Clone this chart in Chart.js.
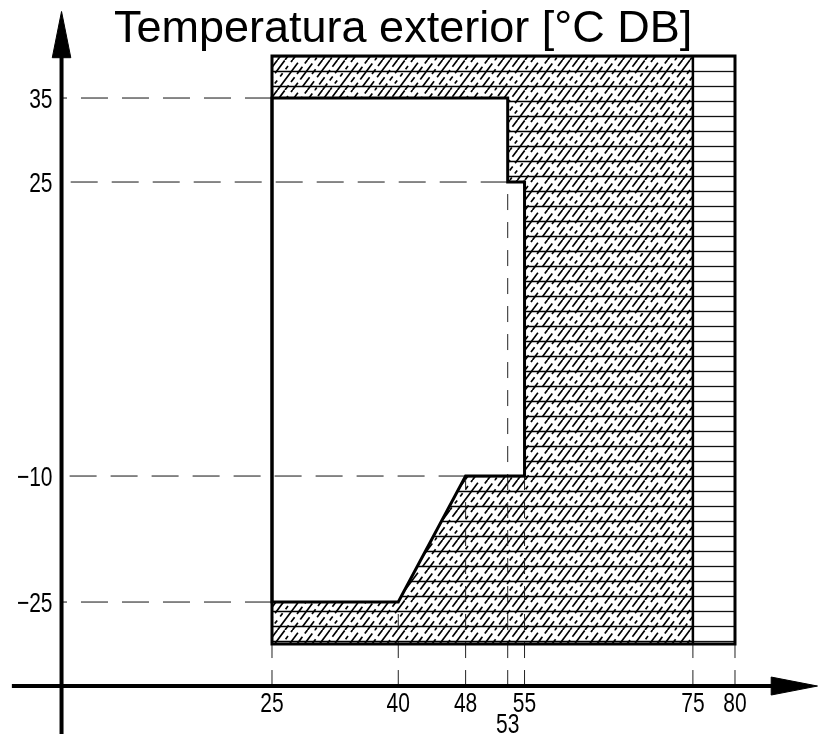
<!DOCTYPE html>
<html>
<head>
<meta charset="utf-8">
<script src="https://cdn.jsdelivr.net/npm/chart.js@4.4.0/dist/chart.umd.min.js"></script>
<style>
  html, body { margin: 0; padding: 0; background: #fff; overflow: hidden; }
  #wrap { width: 818px; height: 734px; position: relative; }
</style>
</head>
<body>
<div id="wrap"><canvas id="chart"></canvas></div>
<script>
// chart values
const titleText = 'Temperatura exterior [°C DB]';
const xTicks = [25, 40, 48, 53, 55, 75, 80];
const xTickRows = [0, 0, 0, 1, 0, 0, 0];
const xGuideFrom = [-30, -25, -10, 25, -10, -30, -30];
const yTicks = [35, 25, -10, -25];
const yGuideTo = [25, 53, 48, 25];
const rangeUpperX = [25, 53, 53, 55, 55];
const rangeUpperY = [35, 35, 25, 25, -10];
const rangeLowerX = [48, 40, 25, 25];
const rangeLowerY = [-10, -25, -25, 35];
const boxX = [25, 75, 80];
const boxY = [-30, 40];
const axisY = -35;

function pts(xs, ys) {
    return xs.map((x, i) => ({ x: x, y: ys[i] }));
}

// hatch patterns
function hatchPattern() {
    const W = 60, H = 30, DX = 22.5, STEP = 7.5;
    const c = document.createElement('canvas');
    c.width = W; c.height = H;
    const g = c.getContext('2d');
    g.fillStyle = '#fff';
    g.fillRect(0, 0, W, H);
    g.strokeStyle = '#000';
    g.lineWidth = 1.3;
    g.beginPath();
    [11.5, 26.5].forEach(y => { g.moveTo(0, y); g.lineTo(W, y); });
    g.stroke();
    const dashes = [[34, 4], [9, 4, 6, 4], [20, 4], [6, 4, 12, 4], [28, 5], [5, 4, 9, 4], [16, 4, 5, 4], [4, 5]];
    const offs = [0, 3, 11, 6, 17, 2, 8, 1];
    let i = 0;
    g.lineWidth = 1.7;
    for (let x0 = -DX; x0 < W; x0 += STEP) {
        g.setLineDash(dashes[i % dashes.length]);
        g.lineDashOffset = offs[i % offs.length];
        g.beginPath();
        g.moveTo(x0, H);
        g.lineTo(x0 + DX, 0);
        g.stroke();
        i++;
    }
    return g.createPattern(c, 'repeat');
}

function linePattern() {
    const c = document.createElement('canvas');
    c.width = 10; c.height = 15;
    const g = c.getContext('2d');
    g.fillStyle = '#fff';
    g.fillRect(0, 0, 10, 15);
    g.strokeStyle = '#111';
    g.lineWidth = 1.3;
    g.beginPath();
    g.moveTo(0, 11.5); g.lineTo(10, 11.5);
    g.stroke();
    return g.createPattern(c, 'repeat');
}

function line(data, opts) {
    return Object.assign({
        data: data,
        showLine: true,
        pointRadius: 0,
        borderColor: '#000',
        borderWidth: 1,
        fill: false,
        tension: 0,
        borderJoinStyle: 'miter',
        borderCapStyle: 'butt'
    }, opts);
}

const datasets = [];

// hatched area 25..75
datasets.push(line(pts([boxX[0], boxX[1], boxX[1], boxX[0], boxX[0]], [boxY[1], boxY[1], boxY[0], boxY[0], boxY[1]]),
    { fill: 'shape', backgroundColor: hatchPattern(), borderWidth: 0, order: 10 }));
// right column 75..80
datasets.push(line(pts([boxX[1], boxX[2], boxX[2], boxX[1], boxX[1]], [boxY[1], boxY[1], boxY[0], boxY[0], boxY[1]]),
    { fill: 'shape', backgroundColor: linePattern(), borderWidth: 0, order: 10 }));
// operating range (white)
datasets.push(line(pts(rangeUpperX.concat(rangeLowerX), rangeUpperY.concat(rangeLowerY)),
    { fill: 'shape', backgroundColor: '#fff', borderWidth: 0, order: 5 }));

// dashed guides
yTicks.forEach((v, i) => {
    datasets.push(line([{ x: yGuideTo[i], y: v }, { x: 0, y: v }],
        { borderDash: [27, 14], borderColor: '#111', order: 3 }));
});
xTicks.forEach((v, i) => {
    datasets.push(line([{ x: v, y: axisY }, { x: v, y: xGuideFrom[i] }],
        { borderDash: [16, 12], borderColor: '#222', order: 3 }));
});

// outlines
datasets.push(line(pts(rangeUpperX.concat(rangeLowerX), rangeUpperY.concat(rangeLowerY)),
    { borderWidth: 3, borderCapStyle: 'square', order: 1 }));
datasets.push(line(pts([boxX[0], boxX[2], boxX[2], boxX[0], boxX[0]], [boxY[1], boxY[1], boxY[0], boxY[0], boxY[1]]),
    { borderWidth: 3, borderCapStyle: 'square', order: 1 }));
datasets.push(line(pts([boxX[1], boxX[1]], boxY), { borderWidth: 2.5, order: 1 }));

// axes with arrows
datasets.push(line([{ x: 0, y: -40.7 }, { x: 0, y: 40.5 }], { borderWidth: 4, order: 0 }));
datasets.push(line([{ x: -5.9, y: axisY }, { x: 85, y: axisY }], { borderWidth: 4, order: 0 }));
datasets.push(line([{ x: -1.1, y: 39.8 }, { x: 0, y: 45.3 }, { x: 1.1, y: 39.8 }, { x: -1.1, y: 39.8 }],
    { fill: 'shape', backgroundColor: '#000', order: 0 }));
datasets.push(line([{ x: 84.3, y: axisY + 1.07 }, { x: 89.8, y: axisY }, { x: 84.3, y: axisY - 1.07 }, { x: 84.3, y: axisY + 1.07 }],
    { fill: 'shape', backgroundColor: '#000', order: 0 }));

const labelsPlugin = {
    id: 'labels',
    afterDatasetsDraw(chart) {
        const ctx = chart.ctx;
        const xs = chart.scales.x, ys = chart.scales.y;
        const x0 = xs.getPixelForValue(0);
        const ay = ys.getPixelForValue(axisY);
        ctx.save();
        ctx.fillStyle = '#000';
        ctx.font = '28px "Liberation Sans", Arial, sans-serif';

        function txt(t, x, y, align) {
            ctx.save();
            ctx.translate(x, y);
            ctx.scale(0.75, 1);
            ctx.textAlign = align;
            ctx.textBaseline = 'alphabetic';
            ctx.fillText(t, 0, 0);
            ctx.restore();
        }

        yTicks.forEach(v => {
            txt(String(v).replace('-', '\u2212'), x0 - 9, ys.getPixelForValue(v) + 10, 'right');
        });
        xTicks.forEach((v, i) => {
            txt(String(v), xs.getPixelForValue(v), ay + 26 + xTickRows[i] * 21, 'center');
        });

        ctx.font = '45px "Liberation Sans", Arial, sans-serif';
        ctx.textAlign = 'left';
        ctx.textBaseline = 'alphabetic';
        ctx.fillText(titleText, 114, 42);
        ctx.restore();
    }
};

new Chart(document.getElementById('chart'), {
    type: 'scatter',
    data: { datasets: datasets },
    options: {
        responsive: true,
        maintainAspectRatio: false,
        animation: false,
        layout: { padding: 0 },
        plugins: {
            legend: { display: false },
            tooltip: { enabled: false }
        },
        scales: {
            x: { type: 'linear', display: false, min: -7.31, max: 89.86 },
            y: { type: 'linear', display: false, min: -40.71, max: 46.67 }
        }
    },
    plugins: [labelsPlugin]
});
</script>
</body>
</html>
